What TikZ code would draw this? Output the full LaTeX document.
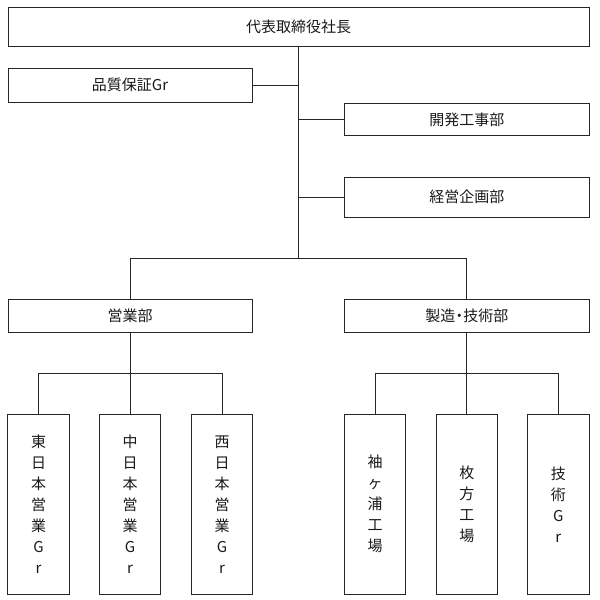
\documentclass[tikz,border=0pt]{standalone}
\usepackage{fontspec}
\setmainfont{Noto Sans CJK JP}
\begin{document}
\begin{tikzpicture}[x=1pt,y=-1pt,
  box/.style={draw=black!85,line width=0.8pt,rectangle,inner sep=0pt,outer sep=0pt,
    text=black!90,font=\fontsize{15}{21}\selectfont,align=center},
  wide/.style={box,minimum width=245pt},
  tall/.style={box,minimum width=61.5pt,minimum height=179.7pt},
  link/.style={draw=black!85,line width=0.8pt}]
\useasboundingbox (0,0) rectangle (600,600);
\node[box,minimum width=581pt,minimum height=39pt] (ceo) at (298.5,27.1) {代表取締役社長};
\node[wide,minimum width=244pt,minimum height=34pt] (qa) at (130,85) {品質保証Gr};
\node[wide,minimum height=32.5pt] (dev) at (466.8,119.5) {開発工事部};
\node[wide,minimum height=39.7pt] (plan) at (466.8,197.2) {経営企画部};
\node[wide,minimum width=244pt,minimum height=33pt] (sales) at (130,315.8) {営業部};
\node[wide,minimum height=33pt] (mfg) at (466.8,315.8) {製造\kern-3.5pt・\kern-3.5pt技術部};
\node[tall] (e1) at (38.5,504.2) {東\\日\\本\\営\\業\\G\\r};
\node[tall] (e2) at (130,504.2) {中\\日\\本\\営\\業\\G\\r};
\node[tall] (e3) at (222,504.2) {西\\日\\本\\営\\業\\G\\r};
\node[tall] (m1) at (375,504.2) {袖\\ヶ\\浦\\工\\場};
\node[tall] (m2) at (466.8,504.2) {枚\\方\\工\\場};
\node[tall] (m3) at (558.3,504.2) {技\\術\\G\\r};
\coordinate (j1) at (298.5,258.3);
\coordinate (j2) at (130,373.7);
\coordinate (j3) at (466.8,373.7);
\draw[link] (ceo.south) -- (j1);
\draw[link] (qa.east) -- (qa.east -| j1);
\draw[link] (dev.west) -- (dev.west -| j1);
\draw[link] (plan.west) -- (plan.west -| j1);
\draw[link] (sales.north) |- (j1) -| (mfg.north);
\draw[link] (sales.south) -- (j2);
\draw[link] (e1.north) |- (j2) -| (e3.north);
\draw[link] (e2.north) -- (j2);
\draw[link] (mfg.south) -- (j3);
\draw[link] (m1.north) |- (j3) -| (m3.north);
\draw[link] (m2.north) -- (j3);
\end{tikzpicture}
\end{document}
